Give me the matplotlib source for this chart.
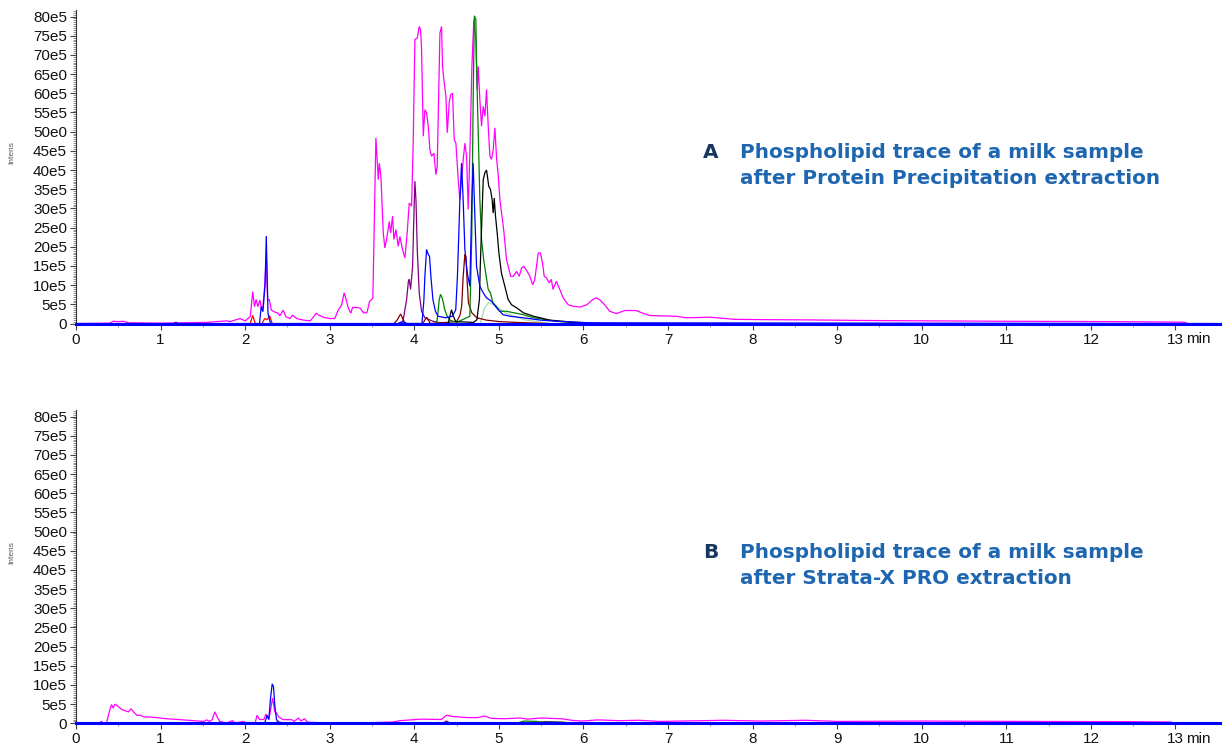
import numpy as np
import matplotlib
matplotlib.use('Agg')
import matplotlib.pyplot as plt
from matplotlib.ticker import MultipleLocator, FixedLocator
import matplotlib.transforms as mtransforms

plt.rcParams['font.family'] = ['Liberation Sans', 'DejaVu Sans']

# traces: (time in min, intensity in units of 1e5)
# --- A: protein precipitation ---
a_magenta = [(0.00, 0.0), (0.40, 0.1), (0.44, 0.6), (0.50, 0.5), (0.56, 0.6), (0.62, 0.2),
             (1.00, 0.1), (1.54, 0.3), (1.78, 0.7), (1.82, 0.5), (1.94, 1.3), (2.00, 0.7),
             (2.06, 1.8), (2.09, 8.3), (2.11, 4.4), (2.13, 6.3), (2.15, 4.4), (2.175, 6.1),
             (2.195, 3.5), (2.21, 4.4), (2.234, 10.5), (2.25, 17.4), (2.265, 6.1), (2.285, 6.3),
             (2.31, 3.5), (2.34, 3.1), (2.39, 2.7), (2.41, 2.0), (2.45, 3.5), (2.48, 1.8),
             (2.53, 1.3), (2.56, 2.2), (2.61, 1.3), (2.69, 0.9), (2.77, 0.7), (2.81, 1.8),
             (2.84, 2.7), (2.87, 2.2), (2.93, 1.6), (3.00, 1.3), (3.06, 1.3), (3.10, 3.5),
             (3.14, 4.8), (3.17, 8.0), (3.19, 6.6), (3.22, 4.0), (3.25, 2.7), (3.27, 4.2),
             (3.32, 4.2), (3.36, 4.0), (3.40, 2.8), (3.44, 2.8), (3.47, 5.7), (3.51, 6.6),
             (3.546, 48.4), (3.574, 37.5), (3.586, 41.8), (3.605, 38.4), (3.633, 23.6),
             (3.652, 19.7), (3.672, 21.9), (3.704, 26.6), (3.72, 23.6), (3.743, 28.0),
             (3.759, 21.9), (3.783, 24.5), (3.81, 20.1), (3.83, 22.7), (3.86, 19.3),
             (3.889, 17.1), (3.917, 24.0), (3.94, 31.4), (3.968, 30.6), (3.987, 47.0),
             (4.007, 74.0), (4.035, 74.4), (4.058, 77.4), (4.074, 76.6), (4.086, 71.4),
             (4.106, 48.8), (4.125, 55.7), (4.145, 54.9), (4.165, 51.4), (4.184, 45.3),
             (4.204, 43.6), (4.232, 44.4), (4.255, 38.8), (4.271, 41.0), (4.287, 58.3),
             (4.303, 75.7), (4.322, 77.4), (4.334, 67.0), (4.35, 63.5), (4.374, 59.2),
             (4.389, 49.7), (4.413, 57.5), (4.429, 59.6), (4.452, 60.0), (4.472, 47.9),
             (4.492, 47.0), (4.519, 37.5), (4.539, 32.3), (4.559, 37.5), (4.578, 42.7),
             (4.598, 47.0), (4.618, 43.6), (4.637, 29.7), (4.657, 44.4), (4.681, 67.0),
             (4.704, 79.2), (4.728, 74.0), (4.744, 61.0), (4.756, 67.0), (4.775, 58.3),
             (4.795, 51.4), (4.815, 56.6), (4.835, 54.0), (4.854, 61.0), (4.874, 51.4),
             (4.894, 43.6), (4.913, 42.8), (4.933, 45.3), (4.953, 51.0), (4.973, 43.0),
             (4.992, 38.8), (5.012, 32.3), (5.032, 28.8), (5.059, 24.0), (5.09, 16.7),
             (5.14, 12.3), (5.17, 12.3), (5.21, 13.6), (5.24, 12.3), (5.27, 14.5),
             (5.295, 14.9), (5.335, 13.6), (5.366, 12.3), (5.40, 10.1), (5.425, 11.5),
             (5.445, 14.9), (5.465, 18.4), (5.49, 18.4), (5.516, 15.8), (5.536, 12.3),
             (5.563, 11.9), (5.595, 10.6), (5.62, 11.5), (5.64, 8.9), (5.68, 11.0),
             (5.72, 8.9), (5.76, 6.7), (5.82, 4.9), (5.88, 4.5), (5.96, 4.3), (6.04, 4.9),
             (6.11, 6.25), (6.15, 6.7), (6.19, 6.25), (6.25, 4.9), (6.31, 3.2), (6.39, 2.6),
             (6.49, 3.4), (6.62, 3.4), (6.69, 2.8), (6.78, 2.1), (7.10, 1.9), (7.21, 1.5),
             (7.50, 1.65), (7.78, 1.1), (8.23, 1.0), (8.68, 0.95), (9.30, 0.8), (10.03, 0.7),
             (10.93, 0.6), (11.60, 0.55), (12.29, 0.5), (13.10, 0.35), (13.15, 0.0)]

a_blue = [(0.00, 0.0), (1.15, 0.0), (1.18, 0.3), (1.21, 0.0), (2.17, 0.0), (2.19, 4.4),
          (2.21, 3.1), (2.235, 10.0), (2.25, 22.8), (2.27, 2.7), (2.30, 0.0), (3.80, 0.0),
          (3.86, 0.5), (3.92, 0.0), (4.09, 0.0), (4.113, 6.0), (4.125, 12.3), (4.145, 19.3),
          (4.165, 18.0), (4.18, 17.5), (4.196, 12.3), (4.22, 6.25), (4.25, 3.2), (4.28, 1.9),
          (4.37, 1.5), (4.45, 1.9), (4.49, 3.6), (4.51, 12.3), (4.539, 32.3), (4.559, 41.8),
          (4.578, 32.0), (4.598, 19.3), (4.626, 13.2), (4.657, 9.7), (4.68, 32.0),
          (4.696, 41.8), (4.71, 32.0), (4.736, 14.9), (4.775, 9.7), (4.815, 8.0),
          (4.854, 6.7), (4.913, 5.8), (4.973, 4.1), (5.05, 2.3), (5.13, 1.9), (5.29, 1.5),
          (5.49, 0.9), (5.68, 0.6), (6.07, 0.2), (13.55, 0.0)]

a_purple = [(3.85, 0.0), (3.869, 1.0), (3.909, 6.25), (3.93, 11.0), (3.94, 11.5),
            (3.956, 8.9), (3.98, 14.9), (3.995, 28.0), (4.007, 37.1), (4.02, 32.0),
            (4.035, 19.3), (4.058, 8.0), (4.086, 3.2), (4.125, 1.5), (4.22, 0.6), (4.35, 0.0)]

a_maroon = [(3.76, 0.0), (3.80, 1.0), (3.838, 2.5), (3.87, 1.0), (3.89, 0.0), (4.10, 0.0),
            (4.145, 1.65), (4.19, 0.0), (4.50, 0.5), (4.539, 2.1), (4.56, 4.5), (4.578, 12.3),
            (4.598, 18.0), (4.61, 17.5), (4.626, 10.6), (4.64, 5.4), (4.68, 2.8), (4.74, 1.5),
            (4.85, 0.9), (5.01, 0.5), (5.20, 0.3), (5.60, 0.0)]

a_red = [(2.06, 0.0), (2.09, 2.1), (2.12, 0.0), (2.20, 0.0), (2.23, 1.3), (2.26, 1.0),
         (2.29, 2.0), (2.32, 0.0)]

a_green = [(4.25, 0.0), (4.27, 0.9), (4.295, 6.25), (4.31, 7.6), (4.322, 7.1), (4.34, 5.8),
           (4.36, 3.6), (4.39, 1.9), (4.42, 0.9), (4.50, 0.3), (4.657, 1.9), (4.68, 23.6),
           (4.696, 58.3), (4.71, 80.2), (4.728, 79.2), (4.736, 67.0), (4.756, 49.7),
           (4.775, 32.3), (4.795, 21.9), (4.82, 16.7), (4.85, 12.3), (4.874, 8.9),
           (4.90, 8.0), (4.93, 5.4), (4.97, 4.5), (5.01, 3.2), (5.09, 3.2), (5.29, 2.3),
           (5.41, 1.5), (5.68, 0.6), (6.00, 0.0)]

a_lightgreen = [(4.78, 0.0), (4.83, 4.0), (4.88, 5.5), (4.93, 5.0), (5.00, 4.0),
                (5.10, 2.5), (5.30, 1.0), (5.60, 0.0)]

a_black = [(4.40, 0.0), (4.44, 3.6), (4.46, 2.0), (4.49, 0.5), (4.70, 0.3), (4.74, 1.0),
           (4.77, 6.25), (4.78, 14.9), (4.80, 28.0), (4.815, 37.5), (4.835, 39.3),
           (4.854, 40.0), (4.87, 37.5), (4.88, 35.8), (4.90, 35.0), (4.92, 32.3),
           (4.933, 28.8), (4.945, 32.7), (4.96, 28.0), (4.98, 23.6), (5.00, 18.4),
           (5.03, 13.2), (5.06, 10.6), (5.11, 6.25), (5.15, 4.9), (5.21, 4.1), (5.29, 2.8),
           (5.41, 1.9), (5.49, 1.5), (5.60, 0.9), (5.88, 0.35), (6.20, 0.0)]

# --- B: Strata-X PRO ---
b_magenta = [(0.00, 0.0), (0.27, 0.0), (0.30, 0.5), (0.33, 0.0), (0.36, 0.0), (0.39, 2.7),
             (0.42, 4.9), (0.44, 4.0), (0.46, 5.0), (0.50, 4.4), (0.54, 3.6), (0.58, 3.3),
             (0.62, 3.0), (0.65, 3.8), (0.68, 3.0), (0.72, 2.1), (0.76, 2.1), (0.80, 1.7),
             (0.91, 1.6), (1.07, 1.2), (1.23, 0.96), (1.39, 0.7), (1.51, 0.5), (1.545, 0.9),
             (1.58, 0.5), (1.61, 0.96), (1.643, 3.0), (1.67, 1.6), (1.70, 0.5), (1.78, 0.1),
             (1.85, 0.7), (1.88, 0.1), (1.98, 0.5), (2.02, 0.1), (2.12, 0.2), (2.14, 2.1),
             (2.17, 1.0), (2.22, 1.0), (2.246, 2.4), (2.28, 1.0), (2.325, 6.6), (2.35, 3.0),
             (2.37, 2.7), (2.40, 1.6), (2.45, 0.96), (2.55, 0.96), (2.58, 0.5), (2.63, 1.4),
             (2.66, 0.6), (2.70, 1.2), (2.74, 0.3), (2.96, 0.1), (3.36, 0.1), (3.75, 0.35),
             (3.83, 0.7), (4.08, 1.1), (4.32, 1.0), (4.38, 2.1), (4.45, 1.8), (4.63, 1.5),
             (4.75, 1.5), (4.83, 1.9), (4.91, 1.3), (5.06, 1.2), (5.25, 1.4), (5.34, 1.1),
             (5.50, 1.4), (5.61, 1.3), (5.74, 1.2), (5.86, 0.8), (5.98, 0.6), (6.17, 0.9),
             (6.42, 0.7), (6.66, 0.8), (6.90, 0.5), (7.65, 0.8), (8.10, 0.6), (8.63, 0.8),
             (9.00, 0.5), (9.99, 0.6), (11.22, 0.5), (12.45, 0.45), (12.94, 0.35), (13.00, 0.0)]

b_blue = [(0.00, 0.0), (2.23, 0.0), (2.26, 2.1), (2.28, 1.0), (2.30, 6.6), (2.32, 10.3),
          (2.335, 9.6), (2.35, 4.9), (2.37, 1.0), (2.41, 0.0), (13.55, 0.0)]
b_red = [(2.33, 0.0), (2.37, 0.3), (2.42, 0.3), (2.46, 0.0)]
b_purple = [(4.33, 0.0), (4.38, 0.6), (4.43, 0.0)]
b_green = [(5.20, 0.0), (5.30, 0.6), (5.45, 0.5), (5.60, 0.0)]
b_black = [(5.40, 0.0), (5.55, 0.4), (5.75, 0.3), (5.90, 0.0)]

y_ticks = [0, 5, 10, 15, 20, 25, 30, 35, 40, 45, 50, 55, 60, 65, 70, 75, 80]
y_labels = ['0', '5e5', '10e5', '15e5', '20e5', '25e0', '30e5', '35e5', '40e5', '45e5',
            '50e0', '55e5', '60e5', '65e0', '70e5', '75e5', '80e5']
x_ticks = list(range(14))

panels = [
    ('A', ['Phospholipid trace of a milk sample', 'after Protein Precipitation extraction'],
     [(a_magenta, '#ff00ff'), (a_lightgreen, '#a8d8a8'), (a_red, '#ff0000'),
      (a_purple, '#800080'), (a_maroon, '#800000'), (a_green, '#008000'),
      (a_black, '#000000'), (a_blue, '#0000ff')]),
    ('B', ['Phospholipid trace of a milk sample', 'after Strata-X PRO extraction'],
     [(b_magenta, '#ff00ff'), (b_red, '#ff0000'), (b_purple, '#800080'),
      (b_green, '#008000'), (b_black, '#000000'), (b_blue, '#0000ff')]),
]

W, H = 1222, 752
fig = plt.figure(figsize=(W / 100, H / 100), dpi=100)

# axes boxes in pixels: (top, bottom)
boxes = [(10, 324.7), (410, 724.5)]
x0 = 76
title_font = ['DejaVu Sans']

for (letter, lines, traces), (top, bot) in zip(panels, boxes):
    ax = fig.add_axes([x0 / W, 1 - bot / H, 1 - x0 / W, (bot - top) / H])
    for tr, col in traces:
        t, v = np.array(tr).T
        ax.plot(t, v, color=col, lw=0.9, solid_joinstyle='miter')

    ax.set_xlim(0, 13.55)
    ax.set_ylim(-0.3, 81.7)
    ax.spines['top'].set_visible(False)
    ax.spines['right'].set_visible(False)
    ax.spines['bottom'].set_position(('data', 0))
    ax.spines['bottom'].set_color('#0000ff')
    ax.spines['bottom'].set_linewidth(2.2)
    ax.spines['bottom'].set_zorder(5)
    ax.spines['left'].set_color('#333333')
    ax.spines['left'].set_linewidth(0.8)

    ax.xaxis.set_major_locator(FixedLocator(x_ticks))
    ax.set_xticklabels([str(i) for i in x_ticks])
    ax.xaxis.set_minor_locator(FixedLocator([i + 0.5 for i in range(13)]))
    ax.yaxis.set_major_locator(FixedLocator(y_ticks))
    ax.set_yticklabels(y_labels)
    ax.yaxis.set_minor_locator(MultipleLocator(0.5))

    ax.tick_params(axis='both', which='major', direction='out', length=4.5, width=0.8,
                   color='#444444', labelsize=11, labelcolor='#111111')
    ax.tick_params(axis='both', which='minor', direction='out', length=2.2, width=0.5,
                   color='#666666')
    ax.tick_params(axis='x', which='major', pad=2)
    ax.tick_params(axis='y', which='major', pad=2)

    trans = mtransforms.blended_transform_factory(ax.transData, ax.transAxes)
    ax.text(13.27, -0.047, 'min', transform=trans, ha='center', va='center',
            fontsize=11, color='#111111')

    # panel annotations
    fig.text(703 / W, 1 - (top + 142) / H, letter, fontsize=14.4, fontweight='bold',
             family=title_font, color='#16375f', ha='left', va='center')
    fig.text(740 / W, 1 - (top + 142) / H, lines[0], fontsize=14.4, fontweight='bold',
             family=title_font, color='#1f66b0', ha='left', va='center')
    fig.text(740 / W, 1 - (top + 168) / H, lines[1], fontsize=14.4, fontweight='bold',
             family=title_font, color='#1f66b0', ha='left', va='center')
    fig.text(12 / W, 1 - (top + 143) / H, 'Intens', fontsize=6, rotation=90,
             color='#555555', ha='center', va='center')

fig.savefig('out.png', dpi=100)
